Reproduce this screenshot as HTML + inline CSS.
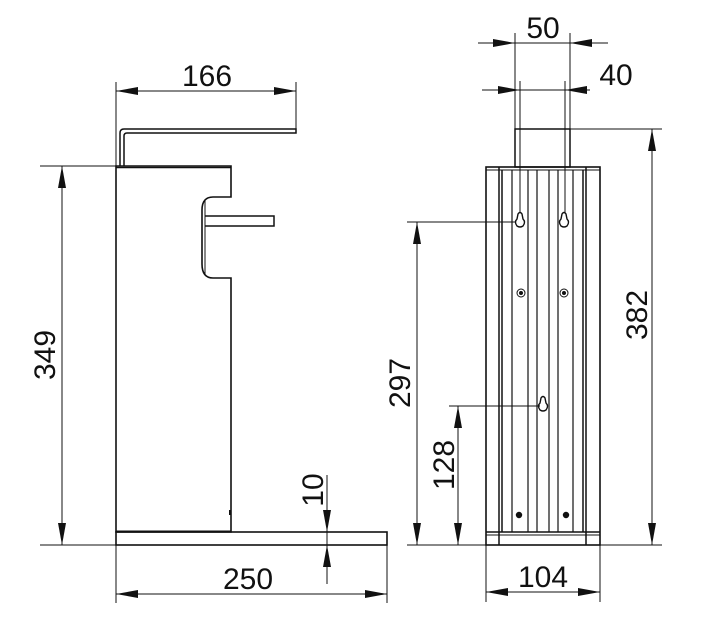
<!DOCTYPE html>
<html><head><meta charset="utf-8"><style>
html,body{margin:0;padding:0;background:#fff;}
svg{display:block;}
text{font-family:"Liberation Sans",sans-serif;font-size:30px;fill:#111;}
</style></head><body>
<svg width="706" height="630" viewBox="0 0 706 630" xmlns="http://www.w3.org/2000/svg">
<g stroke="#111" stroke-width="1" fill="none">
<line x1="116" y1="82" x2="116" y2="166"/>
<line x1="296" y1="82" x2="296" y2="131"/>
<line x1="116" y1="91" x2="296" y2="91"/>
<path d="M120,166 V133 Q120,129 124,129 H296 V133 H127 Q124,133 124,136 V166" stroke-width="1.5"/>
<path d="M116,532 V166 H231 V197 H213 Q202,197 202,210 V264 Q202,278 213,278 H231 V532 Z" stroke-width="1.6"/>
<line x1="116" y1="167.5" x2="231" y2="167.5" stroke-width="1.5"/>
<path d="M205,200 V274"/>
<path d="M205,216 H274 V226 H205" stroke-width="1.5"/>
<line x1="230" y1="510" x2="230" y2="515" stroke-width="2"/>
<rect x="116" y="532" width="271" height="13" stroke-width="1.6"/>
<line x1="116" y1="531" x2="231" y2="531"/>
<line x1="40" y1="166" x2="116" y2="166"/>
<line x1="40" y1="545" x2="116" y2="545"/>
<line x1="62" y1="166" x2="62" y2="545"/>
<line x1="116" y1="545" x2="116" y2="603"/>
<line x1="387" y1="545" x2="387" y2="603"/>
<line x1="116" y1="594" x2="387" y2="594"/>
<line x1="327" y1="475" x2="327" y2="584"/>

<line x1="515" y1="33" x2="515" y2="129"/>
<line x1="570" y1="33" x2="570" y2="129"/>
<line x1="478" y1="43" x2="608" y2="43"/>
<line x1="520" y1="81" x2="520" y2="221"/>
<line x1="565" y1="81" x2="565" y2="221"/>
<line x1="482" y1="90" x2="590" y2="90"/>
<rect x="515" y="129" width="55" height="38" stroke-width="1.5"/>
<rect x="486" y="167" width="114" height="378" stroke-width="1.6"/>
<line x1="486" y1="170" x2="600" y2="170"/>
<line x1="499" y1="167" x2="499" y2="545" stroke-width="1.5"/>
<line x1="502" y1="170" x2="502" y2="532" stroke-width="1.5"/>
<line x1="512" y1="170" x2="512" y2="532" stroke-width="1.2"/>
<line x1="528" y1="170" x2="528" y2="532" stroke-width="1.2"/>
<line x1="537" y1="170" x2="537" y2="532" stroke-width="1.2"/>
<line x1="549" y1="170" x2="549" y2="532" stroke-width="1.2"/>
<line x1="558" y1="170" x2="558" y2="532" stroke-width="1.2"/>
<line x1="573" y1="170" x2="573" y2="532" stroke-width="1.2"/>
<line x1="583" y1="170" x2="583" y2="532" stroke-width="1.5"/>
<line x1="586" y1="167" x2="586" y2="545" stroke-width="1.5"/>
<line x1="486" y1="532" x2="600" y2="532" stroke-width="1.5"/>
<line x1="486" y1="535" x2="600" y2="535"/>
<path d="M517,226 Q514,222 517,219 L518,214 Q520,211 522,214 L523,219 Q526,222 523,226 Q520,228 517,226 Z" fill="#fff" stroke-width="1.4"/>
<path d="M561,226 Q558,222 561,219 L562,214 Q564,211 566,214 L567,219 Q570,222 567,226 Q564,228 561,226 Z" fill="#fff" stroke-width="1.4"/>
<path d="M540,410 Q537,406 540,403 L541,398 Q543,395 545,398 L546,403 Q549,406 546,410 Q543,412 540,410 Z" fill="#fff" stroke-width="1.4"/>
<circle cx="521" cy="293" r="4"/><circle cx="521" cy="293" r="1.5" fill="#111"/>
<circle cx="564" cy="293" r="4"/><circle cx="564" cy="293" r="1.5" fill="#111"/>
<circle cx="519" cy="515" r="2.7" fill="#111"/>
<circle cx="566" cy="515" r="2.7" fill="#111"/>
<line x1="570" y1="129" x2="662" y2="129"/>
<line x1="600" y1="545" x2="662" y2="545"/>
<line x1="652" y1="129" x2="652" y2="545"/>
<line x1="407" y1="222" x2="516" y2="222"/>
<line x1="407" y1="545" x2="486" y2="545"/>
<line x1="417" y1="222" x2="417" y2="545"/>
<line x1="449" y1="406" x2="540" y2="406"/>
<line x1="458" y1="406" x2="458" y2="545"/>
<line x1="486" y1="545" x2="486" y2="602"/>
<line x1="600" y1="545" x2="600" y2="602"/>
<line x1="486" y1="592" x2="600" y2="592"/>
</g>
<g fill="#111">
<polygon points="116,91 138,87 138,95"/><polygon points="296,91 274,87 274,95"/>
<polygon points="116,594 138,590 138,598"/><polygon points="387,594 365,590 365,598"/>
<polygon points="486,592 508,588 508,596"/><polygon points="600,592 578,588 578,596"/>
<polygon points="515,43 493,39 493,47"/><polygon points="570,43 592,39 592,47"/>
<polygon points="520,90 498,86 498,94"/><polygon points="565,90 587,86 587,94"/>
<polygon points="62,166 58,188 66,188"/><polygon points="62,545 58,523 66,523"/>
<polygon points="327,532 323,510 331,510"/><polygon points="327,545 323,567 331,567"/>
<polygon points="652,129 648,151 656,151"/><polygon points="652,545 648,523 656,523"/>
<polygon points="417,222 413,244 421,244"/><polygon points="417,545 413,523 421,523"/>
<polygon points="458,406 454,428 462,428"/><polygon points="458,545 454,523 462,523"/>
</g>
<g>
<text x="207" y="86" text-anchor="middle">166</text>
<text x="248" y="589" text-anchor="middle">250</text>
<text x="543" y="38" text-anchor="middle">50</text>
<text x="616" y="85" text-anchor="middle">40</text>
<text x="543" y="587" text-anchor="middle">104</text>
<text transform="translate(55,355) rotate(-90)" text-anchor="middle">349</text>
<text transform="translate(323,490) rotate(-90)" text-anchor="middle">10</text>
<text transform="translate(647,315) rotate(-90)" text-anchor="middle">382</text>
<text transform="translate(410,383) rotate(-90)" text-anchor="middle">297</text>
<text transform="translate(454,465) rotate(-90)" text-anchor="middle">128</text>
</g>
</svg>
</body></html>
